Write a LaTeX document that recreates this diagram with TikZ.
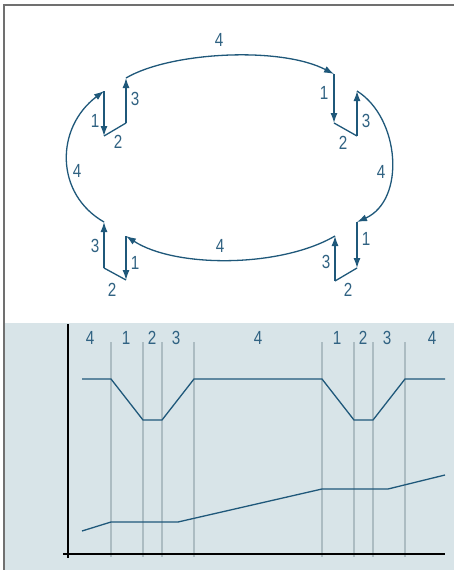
\documentclass[tikz,border=0pt]{standalone}
\usepackage{fontspec}
\newfontfamily\labfont[FakeStretch=0.8]{Liberation Sans}
\usetikzlibrary{arrows.meta}
\definecolor{lineblue}{RGB}{31,88,122}
\definecolor{textblue}{RGB}{48,98,130}
\definecolor{panelbg}{RGB}{216,228,232}
\definecolor{gridgray}{RGB}{172,188,194}
\definecolor{framegray}{RGB}{112,112,112}
\tikzset{
  lab/.style={text=textblue, font=\labfont\fontsize{19}{19}\selectfont, inner sep=0pt, anchor=center},
  flow/.style={draw=lineblue, line width=1.3pt},
  arr/.style={flow, -{Latex[length=10pt,width=7pt]}},
  grid/.style={draw=gridgray, line width=1.1pt},
  axis/.style={draw=black, line width=1.5pt},
  curve/.style={draw=lineblue, line width=1.3pt, line join=miter}
}
\begin{document}
\begin{tikzpicture}[x=1pt,y=-1pt]
\useasboundingbox (0,0) rectangle (454,570);
\fill[white] (0,0) rectangle (454,570);
% lower panel
\fill[panelbg] (4,323) rectangle (454,570);
% frame
\draw[framegray, line width=2pt] (3.5,570) -- (3.5,4.5) -- (454,4.5);

% ----- cycle diagram -----
% top-left group
\coordinate (a1) at (104,91);
\coordinate (a2) at (104,136);
\coordinate (a3) at (126,123);
\coordinate (a4) at (126,78);
% top-right group
\coordinate (b1) at (334,74);
\coordinate (b2) at (334,123);
\coordinate (b3) at (357,136);
\coordinate (b4) at (357,91);
% bottom-right group
\coordinate (c1) at (357,222);
\coordinate (c2) at (357,268);
\coordinate (c3) at (335,281);
\coordinate (c4) at (335,236);
% bottom-left group
\coordinate (d1) at (126,236);
\coordinate (d2) at (126,280);
\coordinate (d3) at (104,268);
\coordinate (d4) at (104,222);

\draw[arr] (a1) -- (a2);
\draw[flow] (a2) -- (a3);
\draw[arr] (a3) -- (a4);
\draw[arr] (a4) .. controls (170,52) and (280,46) .. (b1);

\draw[arr] (b1) -- (b2);
\draw[flow] (b2) -- (b3);
\draw[arr] (b3) -- (b4);
\draw[arr] (b4) .. controls (400,118) and (406,200) .. (c1);

\draw[arr] (c1) -- (c2);
\draw[flow] (c2) -- (c3);
\draw[arr] (c3) -- (c4);
\draw[arr] (c4) .. controls (280,268) and (175,268) .. (d1);

\draw[arr] (d1) -- (d2);
\draw[flow] (d2) -- (d3);
\draw[arr] (d3) -- (d4);
\draw[arr] (d4) .. controls (55,194) and (55,128) .. (a1);

% labels of the cycle
\node[lab] (la1) at (95,121) {1};
\node[lab] (la2) at (118,142) {2};
\node[lab] (la3) at (135,99) {3};
\node[lab] (la4) at (219,40) {4};
\node[lab] (lb1) at (324,93) {1};
\node[lab] (lb2) at (343,143) {2};
\node[lab] (lb3) at (366,121) {3};
\node[lab] (lb4) at (381,172) {4};
\node[lab] (lc1) at (366,239) {1};
\node[lab] (lc2) at (348,290) {2};
\node[lab] (lc3) at (326,262) {3};
\node[lab] (lc4) at (220,246) {4};
\node[lab] (ld1) at (135,263) {1};
\node[lab] (ld2) at (112,290) {2};
\node[lab] (ld3) at (95,246) {3};
\node[lab] (ld4) at (77,171) {4};

% ----- timing chart -----
\foreach \x in {111,143,162,194,322,354,373,405}
  \draw[grid] (\x,342) -- (\x,557);

\draw[axis] (68,324) -- (68,558);
\draw[axis] (63,554) -- (445,554);

\node[lab] (t1) at (90,338) {4};
\node[lab] (t2) at (126,338) {1};
\node[lab] (t3) at (152,338) {2};
\node[lab] (t4) at (176,338) {3};
\node[lab] (t5) at (258,338) {4};
\node[lab] (t6) at (337,338) {1};
\node[lab] (t7) at (363,338) {2};
\node[lab] (t8) at (387,338) {3};
\node[lab] (t9) at (432,338) {4};

\draw[curve] (82,379) -- (111,379) -- (143,420) -- (162,420) -- (194,379)
  -- (322,379) -- (354,420) -- (373,420) -- (405,379) -- (445,379);
\draw[curve] (82,531) -- (111,522) -- (178,522) -- (322,489) -- (388,489) -- (445,475);
\end{tikzpicture}
\end{document}
